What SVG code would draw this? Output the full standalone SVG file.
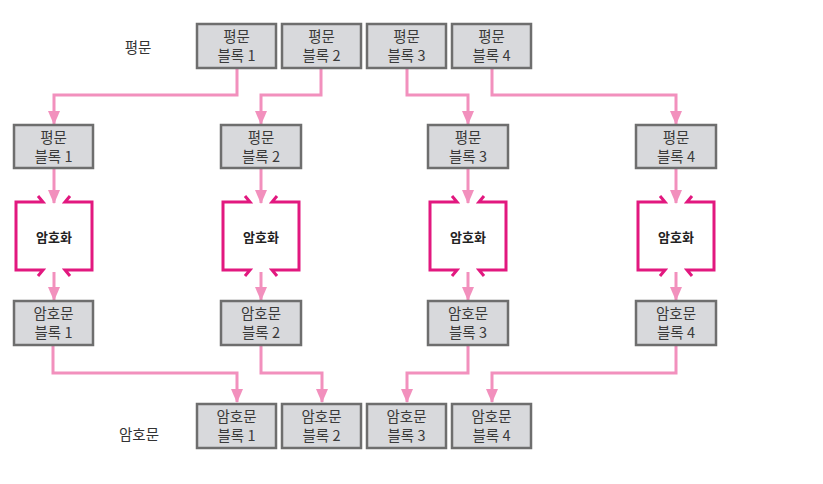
<svg xmlns="http://www.w3.org/2000/svg" width="823" height="484" viewBox="0 0 823 484">
<style>
.box{fill:#d8d9dc;stroke:#6e6e6e;stroke-width:2.5}
.t{font-family:"Noto Sans CJK KR","Noto Sans",sans-serif;font-size:14.5px;fill:#3a3a3a;text-anchor:middle}
.lbl{font-family:"Noto Sans CJK KR","Noto Sans",sans-serif;font-size:14.5px;fill:#333;text-anchor:middle}
.encl{fill:none;stroke:#e2187f;stroke-width:3;stroke-linejoin:miter}
.et{font-family:"Noto Sans CJK KR","Noto Sans",sans-serif;font-size:13px;font-weight:bold;fill:#222;text-anchor:middle}
.c{fill:none;stroke:#f290bd;stroke-width:3;marker-end:url(#ah)}
</style>
<defs>
<marker id="ah" markerUnits="userSpaceOnUse" markerWidth="14" markerHeight="12" viewBox="0 0 14 12" refX="13" refY="6" orient="auto">
<path d="M0,0 L14,6 L0,12 Z" fill="#f290bd"/>
</marker>
</defs>
<rect width="823" height="484" fill="#fff"/>

<g id="connectors">
<path class="c" d="M237,68 V95 H54 V124"/>
<path class="c" d="M321,68 V95 H261 V124"/>
<path class="c" d="M407,68 V95 H468 V124"/>
<path class="c" d="M492,68 V95 H676 V124"/>
<path class="c" d="M54,168 V203"/>
<path class="c" d="M261,168 V203"/>
<path class="c" d="M468,168 V203"/>
<path class="c" d="M676,168 V203"/>
<path class="c" d="M54,272 V300"/>
<path class="c" d="M261,272 V300"/>
<path class="c" d="M468,272 V300"/>
<path class="c" d="M676,272 V300"/>
<path class="c" d="M53,345 V373 H237 V402"/>
<path class="c" d="M261,345 V373 H322 V402"/>
<path class="c" d="M468,345 V373 H407 V402"/>
<path class="c" d="M676,345 V373 H492 V402"/>
</g>

<text class="lbl" x="138" y="53">평문</text>
<text class="lbl" x="139" y="440">암호문</text>

<g id="p1"><rect class="box" x="197" y="24" width="79" height="44"/><text class="t" x="236.5" y="42">평문</text><text class="t" x="236.5" y="61">블록 1</text></g>
<g id="p2"><rect class="box" x="282" y="24" width="79" height="44"/><text class="t" x="321.5" y="42">평문</text><text class="t" x="321.5" y="61">블록 2</text></g>
<g id="p3"><rect class="box" x="367" y="24" width="79" height="44"/><text class="t" x="406.5" y="42">평문</text><text class="t" x="406.5" y="61">블록 3</text></g>
<g id="p4"><rect class="box" x="452" y="24" width="79" height="44"/><text class="t" x="491.5" y="42">평문</text><text class="t" x="491.5" y="61">블록 4</text></g>

<g id="cp1"><rect class="box" x="14" y="125" width="79" height="43"/><text class="t" x="53.5" y="143">평문</text><text class="t" x="53.5" y="162">블록 1</text></g>
<g id="cp2"><rect class="box" x="221" y="125" width="80" height="43"/><text class="t" x="261" y="143">평문</text><text class="t" x="261" y="162">블록 2</text></g>
<g id="cp3"><rect class="box" x="428" y="125" width="80" height="43"/><text class="t" x="468" y="143">평문</text><text class="t" x="468" y="162">블록 3</text></g>
<g id="cp4"><rect class="box" x="636" y="125" width="80" height="43"/><text class="t" x="676" y="143">평문</text><text class="t" x="676" y="162">블록 4</text></g>

<g id="e1"><path class="encl" d="M38,196 L43,202 H16 V270 H43 L38,276 M70,196 L65,202 H92 V270 H65 L70,276"/><text class="et" x="54" y="242">암호화</text></g>
<g id="e2"><path class="encl" d="M245,196 L250,202 H223 V270 H250 L245,276 M277,196 L272,202 H299 V270 H272 L277,276"/><text class="et" x="261" y="242">암호화</text></g>
<g id="e3"><path class="encl" d="M452,196 L457,202 H430 V270 H457 L452,276 M484,196 L479,202 H506 V270 H479 L484,276"/><text class="et" x="468" y="242">암호화</text></g>
<g id="e4"><path class="encl" d="M660,196 L665,202 H638 V270 H665 L660,276 M692,196 L687,202 H714 V270 H687 L692,276"/><text class="et" x="676" y="242">암호화</text></g>

<g id="cc1"><rect class="box" x="14" y="301" width="79" height="44"/><text class="t" x="53.5" y="319">암호문</text><text class="t" x="53.5" y="338">블록 1</text></g>
<g id="cc2"><rect class="box" x="221" y="301" width="80" height="44"/><text class="t" x="261" y="319">암호문</text><text class="t" x="261" y="338">블록 2</text></g>
<g id="cc3"><rect class="box" x="428" y="301" width="80" height="44"/><text class="t" x="468" y="319">암호문</text><text class="t" x="468" y="338">블록 3</text></g>
<g id="cc4"><rect class="box" x="636" y="301" width="80" height="44"/><text class="t" x="676" y="319">암호문</text><text class="t" x="676" y="338">블록 4</text></g>

<g id="c1"><rect class="box" x="197" y="404" width="79" height="44"/><text class="t" x="236.5" y="422">암호문</text><text class="t" x="236.5" y="441">블록 1</text></g>
<g id="c2"><rect class="box" x="282" y="404" width="79" height="44"/><text class="t" x="321.5" y="422">암호문</text><text class="t" x="321.5" y="441">블록 2</text></g>
<g id="c3"><rect class="box" x="367" y="404" width="79" height="44"/><text class="t" x="406.5" y="422">암호문</text><text class="t" x="406.5" y="441">블록 3</text></g>
<g id="c4"><rect class="box" x="452" y="404" width="79" height="44"/><text class="t" x="491.5" y="422">암호문</text><text class="t" x="491.5" y="441">블록 4</text></g>
</svg>
